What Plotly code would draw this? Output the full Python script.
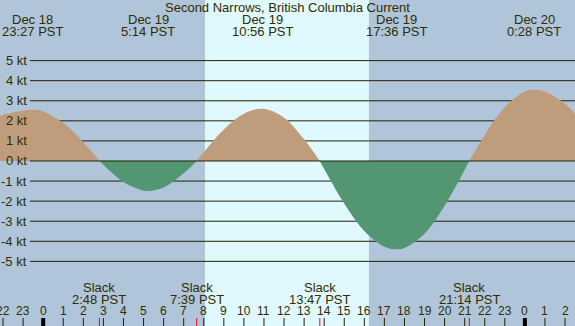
import plotly.graph_objects as go

# ---- data ----
# hours relative to Dec 19 00:00 PST, current speed in knots
hours = [-2.3, -2, -1, -0.55, 0, 1, 2, 2.8, 3, 4, 5, 5.23, 6, 7, 7.65,
         8, 9, 10, 10.93, 12, 13, 13.78, 14, 15, 16, 17, 17.6, 18, 19, 20, 21, 21.23,
         22, 23, 24, 24.47, 25, 26, 26.6]
knots = [2.20, 2.30, 2.50, 2.55, 2.47, 1.90, 0.93, 0.0, -0.19, -1.05, -1.48, -1.50, -1.32, -0.61, 0.0,
         0.43, 1.57, 2.35, 2.60, 2.16, 1.08, 0.0, -0.40, -2.12, -3.49, -4.27, -4.40, -4.33, -3.62, -2.23, -0.44, 0.0,
         1.30, 2.69, 3.46, 3.55, 3.46, 2.85, 2.24]

max_times = [-0.55, 5.233, 10.933, 17.6, 24.467]
max_dates = ["Dec 18", "Dec 19", "Dec 19", "Dec 19", "Dec 20"]
max_clock = ["23:27 PST", "5:14 PST", "10:56 PST", "17:36 PST", "0:28 PST"]

slack_times = [2.8, 7.65, 13.783, 21.233]
slack_clock = ["2:48 PST", "7:39 PST", "13:47 PST", "21:14 PST"]

sun_times = [8.06, 16.23]  # sunrise, sunset
kt_levels = [5, 4, 3, 2, 1, 0, -1, -2, -3, -4, -5]
hour_ticks = list(range(-2, 27))
hour_labels = [str(h % 24) for h in hour_ticks]

title = "Second Narrows, British Columbia Current"

# ---- styling ----
W, H = 575, 326
NIGHT = "#B0C4DA"
DAY = "#E0F8FF"
FLOOD = "#BF9D7C"
EBB = "#529672"
INK = "#2E2E00"
LINE = "#222200"
FONT = "Liberation Sans"
X0, X1 = -2.152, 26.497
Y0, Y1 = -8.22, 8.02


def py(px):
    return 1 - px / H


fig = go.Figure()

# split curve into lobes at slack (zero) points
lobes = []
cur_x, cur_y = [], []
for t, v in zip(hours, knots):
    cur_x.append(t)
    cur_y.append(v)
    if v == 0 and len(cur_x) > 1:
        lobes.append((cur_x, cur_y))
        cur_x, cur_y = [t], [v]
if len(cur_x) > 1:
    lobes.append((cur_x, cur_y))

for lx, ly in lobes:
    sign = max(ly, key=abs)
    col = FLOOD if sign > 0 else EBB
    fig.add_trace(go.Scatter(x=lx, y=ly, mode="lines", fill="tozeroy",
                             fillcolor=col, line=dict(width=0, shape="spline", color=col),
                             hoverinfo="skip", showlegend=False))

shapes = []
shapes.append(dict(type="rect", xref="x", yref="paper", x0=sun_times[0], x1=sun_times[1],
                   y0=0, y1=1, fillcolor=DAY, line=dict(width=0), layer="below"))
for k in kt_levels:
    shapes.append(dict(type="line", xref="paper", yref="y", x0=30 / W, x1=1, y0=k, y1=k,
                       line=dict(color=LINE, width=1), layer="above" if k == 0 else "below"))
for h in hour_ticks:
    mid = (h % 24 == 0)
    shapes.append(dict(type="line", xref="x", yref="paper", x0=h, x1=h, y0=0, y1=8 / H,
                       line=dict(color="#000000" if mid else LINE, width=4 if mid else 1)))
for s in slack_times:
    shapes.append(dict(type="line", xref="x", yref="paper", x0=s, x1=s, y0=0, y1=8 / H,
                       line=dict(color="#FF0000", width=1)))

ann = []
fnt = dict(family=FONT, size=13, color=INK)
ann.append(dict(text=title, xref="paper", yref="paper", x=0.5, y=py(7.2),
                xanchor="center", yanchor="middle", showarrow=False, font=fnt))
for t, d, c in zip(max_times, max_dates, max_clock):
    ann.append(dict(text=d, xref="x", yref="paper", x=t, y=py(19.8), xanchor="center",
                    yanchor="middle", showarrow=False, font=fnt))
    ann.append(dict(text=c, xref="x", yref="paper", x=t, y=py(31.4), xanchor="center",
                    yanchor="middle", showarrow=False, font=fnt))
for t, c in zip(slack_times, slack_clock):
    ann.append(dict(text="Slack", xref="x", yref="paper", x=t, y=py(287.5), xanchor="center",
                    yanchor="middle", showarrow=False, font=fnt))
    ann.append(dict(text=c, xref="x", yref="paper", x=t, y=py(299.5), xanchor="center",
                    yanchor="middle", showarrow=False, font=fnt))
for h, lab in zip(hour_ticks, hour_labels):
    ann.append(dict(text=lab, xref="x", yref="paper", x=h, y=py(310.8), xanchor="center",
                    yanchor="middle", showarrow=False, font=dict(family=FONT, size=12, color=INK)))
for k in kt_levels:
    ann.append(dict(text=f"{k} kt", xref="paper", yref="y", x=29 / W, y=k, xanchor="right",
                    yanchor="middle", showarrow=False, font=fnt))

fig.update_layout(
    width=W, height=H, margin=dict(l=0, r=0, t=0, b=0),
    paper_bgcolor=NIGHT, plot_bgcolor=NIGHT,
    xaxis=dict(range=[X0, X1], visible=False, fixedrange=True),
    yaxis=dict(range=[Y0, Y1], visible=False, fixedrange=True),
    shapes=shapes, annotations=ann, showlegend=False,
)

fig.write_html("out.html", config={"displayModeBar": False},
               post_script="document.body.style.margin='0px';document.body.style.overflow='hidden';")
